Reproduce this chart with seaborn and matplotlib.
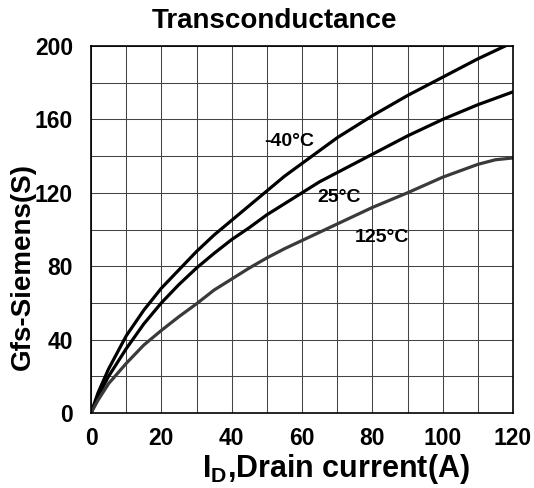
import numpy as np
import pandas as pd
import matplotlib
matplotlib.use("Agg")
import matplotlib.pyplot as plt
import seaborn as sns

# Data
cur_m40 = [0, 2, 5, 10, 15, 20, 25, 30, 35, 40, 45, 50, 55, 60, 65, 70, 75, 80, 90, 100, 110, 120]
gfs_m40 = [0, 11, 24, 42, 56, 68, 78, 88, 97, 105, 113, 121, 129, 136, 143, 150, 156, 162, 173, 183, 193, 202]
cur_25 = [0, 2, 5, 10, 15, 20, 25, 30, 35, 40, 45, 50, 55, 60, 65, 70, 75, 80, 90, 100, 110, 120]
gfs_25 = [0, 9, 20, 35, 48.5, 60, 70, 79, 87, 94.5, 101, 108, 114, 120, 126, 131, 136, 141, 151, 160, 168, 175]
cur_125 = [0, 2, 5, 10, 15, 20, 25, 30, 35, 40, 45, 50, 55, 60, 70, 80, 90, 100, 110, 115, 120]
gfs_125 = [0, 7, 16, 27, 37, 45, 52.5, 59.5, 67, 73, 79, 84.5, 89.5, 94, 103, 112, 120, 128.5, 135.5, 138, 139]
series_names = ["-40°C", "25°C", "125°C"]
x_ticks = [0, 20, 40, 60, 80, 100, 120]
y_ticks = [0, 40, 80, 120, 160, 200]

sns.set_theme(style="white")
plt.rcParams["font.family"] = ["Liberation Sans", "DejaVu Sans"]
plt.rcParams["font.weight"] = "bold"
plt.rcParams["text.color"] = "black"
plt.rcParams["axes.labelcolor"] = "black"
plt.rcParams["xtick.color"] = "black"
plt.rcParams["ytick.color"] = "black"
plt.rcParams["mathtext.fontset"] = "custom"
plt.rcParams["mathtext.rm"] = "Liberation Sans:bold"
plt.rcParams["mathtext.it"] = "Liberation Sans:bold"
plt.rcParams["mathtext.bf"] = "Liberation Sans:bold"

df = pd.concat([
    pd.DataFrame({"I": xs, "G": ys, "T": name})
    for name, xs, ys in zip(series_names,
                            [cur_m40, cur_25, cur_125],
                            [gfs_m40, gfs_25, gfs_125])
], ignore_index=True)

fig = plt.figure(figsize=(5.34, 4.88), dpi=100)
ax = fig.add_axes([91/534, 1 - 413/488, (513-91)/534, (413-46)/488])

sns.lineplot(data=df, x="I", y="G", hue="T", hue_order=series_names,
             palette={"-40°C": "#000000", "25°C": "#000000", "125°C": "#3a3a3a"},
             linewidth=2.3, legend=False, ax=ax, estimator=None, sort=False)

ax.set_xlim(0, 120)
ax.set_ylim(0, 200)
ax.set_xticks(np.arange(0, 121, 10))
ax.set_yticks(np.arange(0, 201, 20))
ax.set_xticklabels([str(v) if v in x_ticks else "" for v in range(0, 121, 10)])
ax.set_yticklabels([str(v) if v in y_ticks else "" for v in range(0, 201, 20)])
ax.grid(True, color="#444444", linewidth=0.75)
ax.tick_params(axis="both", length=0, labelsize=16.5, labelcolor="black")
ax.tick_params(axis="x", pad=10)
ax.tick_params(axis="y", pad=13)
for s in ax.spines.values():
    s.set_color("black")
    s.set_linewidth(1.2)

ax.set_xlabel(r"$\mathrm{I_D}$,Drain current(A)", fontsize=22, fontweight="bold",
              color="black")
ax.xaxis.set_label_coords(0.58, -0.105)
ax.set_ylabel("Gfs-Siemens(S)", fontsize=20, fontweight="bold", color="black")
ax.yaxis.set_label_coords(-0.13, 0.40)

fig.text(274/534, 1 - 28/488, "Transconductance", ha="center", va="baseline",
         fontsize=20, fontweight="bold", color="black")

ax.text(56.3, 147.7, "-40°C", ha="center", va="center", fontsize=14, fontweight="bold", color="black")
ax.text(70.5, 117.7, "25°C", ha="center", va="center", fontsize=14, fontweight="bold", color="black")
ax.text(82.7, 95.9, "125°C", ha="center", va="center", fontsize=14, fontweight="bold", color="black")

fig.savefig("out.png", dpi=100)
